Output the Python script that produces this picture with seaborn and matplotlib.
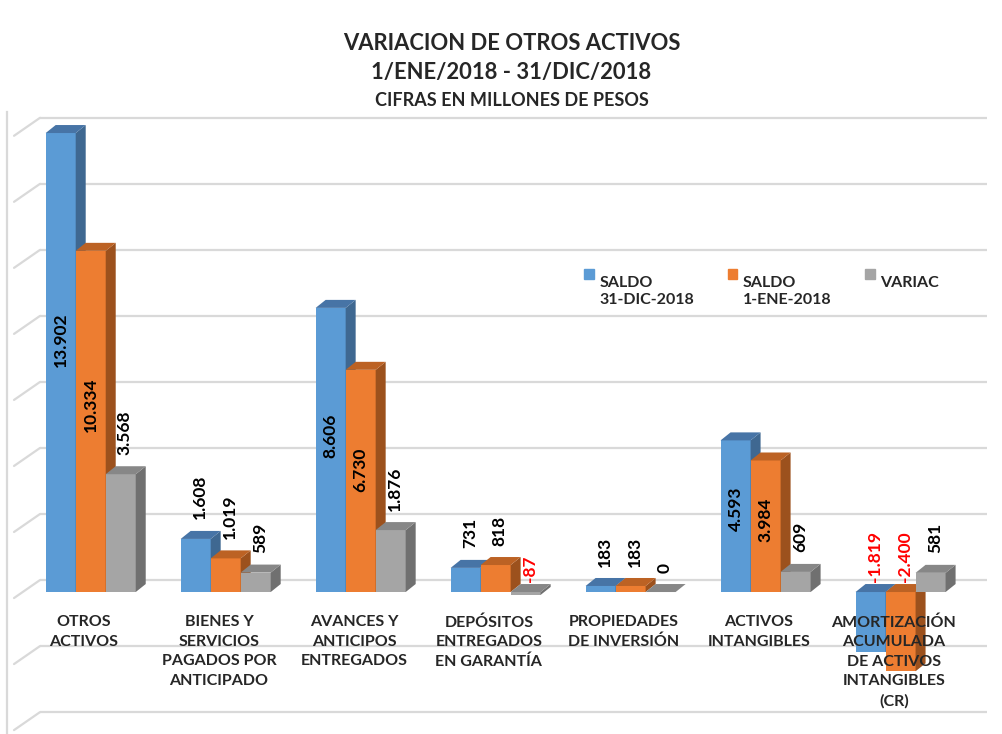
import pandas as pd
import matplotlib
matplotlib.use("Agg")
import matplotlib.pyplot as plt
import seaborn as sns
from matplotlib.patches import Polygon, Patch

# Datos (millones de pesos)
categorias = [
    "OTROS\nACTIVOS",
    "BIENES Y\nSERVICIOS\nPAGADOS POR\nANTICIPADO",
    "AVANCES Y\nANTICIPOS\nENTREGADOS",
    "DEPÓSITOS\nENTREGADOS\nEN GARANTÍA",
    "PROPIEDADES\nDE INVERSIÓN",
    "ACTIVOS\nINTANGIBLES",
    "AMORTIZACIÓN\nACUMULADA\nDE ACTIVOS\nINTANGIBLES\n(CR)",
]
saldo_dic = [13902, 1608, 8606, 731, 183, 4593, -1819]
saldo_ene = [10334, 1019, 6730, 818, 183, 3984, -2400]
variacion = [3568, 589, 1876, -87, 0, 609, 581]
series = ["SALDO\n31-DIC-2018", "SALDO\n1-ENE-2018", "VARIAC"]

colores = ["#5B9BD5", "#ED7D31", "#A5A5A5"]
colores_top = ["#4774A6", "#BC6224", "#878787"]
colores_lado = ["#3F6891", "#9C511D", "#707070"]

df = pd.DataFrame({
    "categoria": categorias * 3,
    "serie": [series[0]] * 7 + [series[1]] * 7 + [series[2]] * 7,
    "valor": saldo_dic + saldo_ene + variacion,
})

sns.set_style("white")
plt.rcParams["font.family"] = ["Lato", "DejaVu Sans"]

fig = plt.figure(figsize=(10.03, 7.34), dpi=100)
ax = fig.add_axes([0.007, 0.0, 0.977, 0.847])

sns.barplot(data=df, x="categoria", y="valor", hue="serie", palette=colores,
            width=0.667, saturation=1, legend=False, ax=ax)
ax.set_xlim(-0.62, 6.64)
ax.set_ylim(-4300, 14530)

# conversion pixeles -> datos
bbox = ax.get_window_extent()
px_x = bbox.width / (ax.get_xlim()[1] - ax.get_xlim()[0])
px_y = bbox.height / (ax.get_ylim()[1] - ax.get_ylim()[0])
dx, dy = 10 / px_x, 8 / px_y

# pared del fondo y lineas de division
x0 = ax.get_xlim()[0]
x_pared = x0 + 33 / px_x
for v in range(-4000, 14001, 2000):
    ax.plot([x_pared, ax.get_xlim()[1]], [v + 12 / px_y] * 2,
            color="#D9D9D9", lw=1.6, zorder=1, solid_capstyle="butt")
    ax.plot([x0 + 7 / px_x, x_pared], [v - 6 / px_y, v + 12 / px_y],
            color="#D9D9D9", lw=1.6, zorder=1)

# barras 3D
for j, cont in enumerate(ax.containers):
    for i, bar in enumerate(cont):
        v = bar.get_height()
        xb, w = bar.get_x(), bar.get_width()
        top, bot = max(0, v), min(0, v)
        z = 3 + i * 3 + j
        bar.set_zorder(z)
        bar.set_edgecolor("none")
        ax.add_patch(Polygon([(xb + w, bot), (xb + w + dx, bot + dy),
                              (xb + w + dx, top + dy), (xb + w, top)],
                             closed=True, fc=colores_lado[j], ec="none", zorder=z))
        ax.add_patch(Polygon([(xb, top), (xb + dx, top + dy),
                              (xb + w + dx, top + dy), (xb + w, top)],
                             closed=True, fc=colores_top[j], ec="none", zorder=z))

        texto = f"{v:,.0f}".replace(",", ".")
        xc = xb + w / 2
        if v < 0:
            ax.annotate(texto, (xc, 0), xytext=(3, 7), textcoords="offset points",
                        rotation=90, ha="center", va="bottom", color="#FF0000",
                        fontsize=12.5, fontweight="bold", zorder=40)
        elif j < 2 and v > 3000:
            ax.text(xc, v * 0.55, texto, rotation=90, ha="center", va="center",
                    color="black", fontsize=12.5, fontweight="bold", zorder=40)
        else:
            ax.annotate(texto, (xc, v), xytext=(3, 14), textcoords="offset points",
                        rotation=90, ha="center", va="bottom", color="black",
                        fontsize=12.5, fontweight="bold", zorder=40)

# etiquetas de categoria
for i, cat in enumerate(categorias):
    ax.text(i - 0.05, -700, cat, ha="center", va="top", fontsize=11.5,
            fontweight="bold", linespacing=1.5, zorder=50)

ax.set_xticks([])
ax.set_yticks([])
ax.set_xlabel("")
ax.set_ylabel("")
for s in ["top", "right", "bottom"]:
    ax.spines[s].set_visible(False)
ax.spines["left"].set_color("#D9D9D9")
ax.spines["left"].set_linewidth(1.6)

handles = [Patch(color=c) for c in colores]
etiquetas_leyenda = [s if "\n" in s else s + "\n " for s in series]
leg = ax.legend(handles, etiquetas_leyenda, loc="upper left", ncol=3, frameon=False,
                bbox_to_anchor=(570 / 1003, 1 - 262 / 734), bbox_transform=fig.transFigure,
                handlelength=0.6, handleheight=0.4, handletextpad=0.35,
                columnspacing=2.1, prop={"weight": "bold", "size": 11.5})
# cuadrito alineado con la primera linea del texto
for p in leg.get_patches():
    p.set_height(p.get_width())
    p.set_y(p.get_y() + 12)

fig.text(0.51, 1 - 44 / 734, "VARIACION DE OTROS ACTIVOS", ha="center", va="center",
         fontsize=15.8, fontweight="bold")
fig.text(0.51, 1 - 73 / 734, "1/ENE/2018 - 31/DIC/2018", ha="center", va="center",
         fontsize=15.8, fontweight="bold")
fig.text(0.51, 1 - 101 / 734, "CIFRAS EN MILLONES DE PESOS", ha="center", va="center",
         fontsize=13, fontweight="bold")

fig.savefig("out.png", dpi=100, facecolor="white")
